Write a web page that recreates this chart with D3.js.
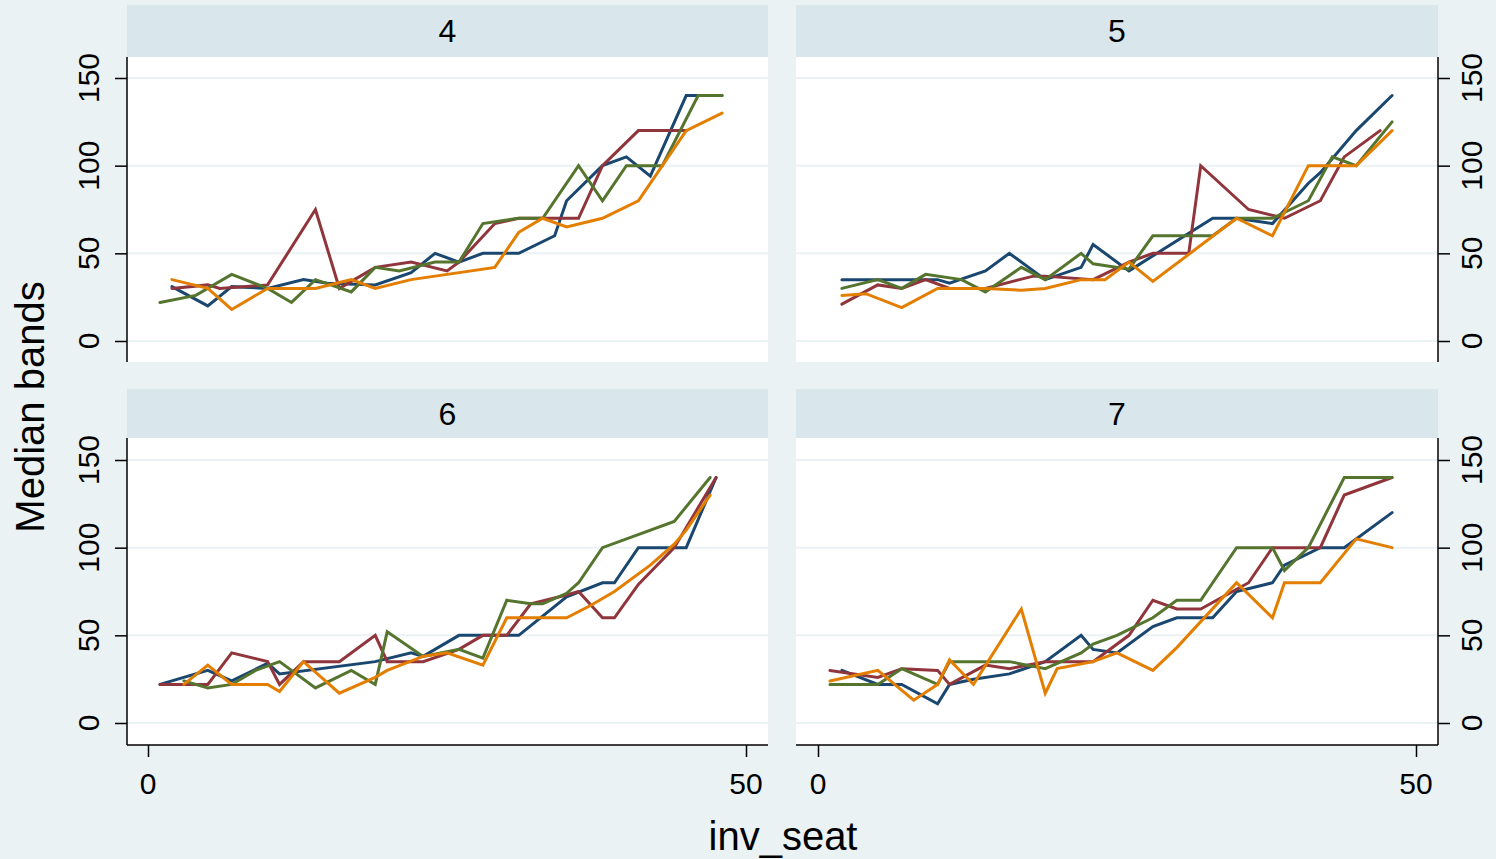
<!DOCTYPE html>
<html>
<head>
<meta charset="utf-8">
<script src="https://cdn.jsdelivr.net/npm/d3@7/dist/d3.min.js"></script>
<style>
  html, body { margin: 0; padding: 0; background: #EAF2F3; }
  svg { display: block; font-family: "Liberation Sans", Arial, sans-serif; }
</style>
</head>
<body>
<svg id="chart" width="1496" height="859"></svg>
<script>
// ---------------- DATA ----------------
const panelNames = ["4", "5", "6", "7"];
const seriesNames = ["s1", "s2", "s3", "s4"];
const xTicks = [0, 50];
const yTicks = [0, 50, 100, 150];
const xTitle = "inv_seat";
const yTitle = "Median bands";

// panel 4
const p4_s1 = [[2,31],[5,20],[7,31],[10,30],[13,35],[15,33],[19,32],[22,39],[24,50],[26,45],[28,50],[31,50],[34,60],[35,80],[38,100],[40,105],[42,94],[45,140],[48,140]];
const p4_s2 = [[2,30],[5,32],[6,30],[10,32],[14,75],[16,30],[19,42],[22,45],[25,40],[26,45],[29,67],[31,70],[36,70],[38,100],[41,120],[45,120]];
const p4_s3 = [[1,22],[4,26],[7,38],[10,30],[12,22],[14,35],[17,28],[19,42],[21,40],[24,45],[26,45],[28,67],[31,70],[33,70],[36,100],[38,80],[40,100],[43,100],[46,140],[48,140]];
const p4_s4 = [[2,35],[5,30],[7,18],[10,30],[14,30],[17,35],[19,30],[22,35],[29,42],[31,62],[33,70],[35,65],[38,70],[41,80],[45,120],[48,130]];
// panel 5
const p5_s1 = [[2,35],[10,35],[11,33],[14,40],[16,50],[19,35],[22,42],[23,55],[26,40],[33,70],[35,70],[38,67],[41,90],[42,96],[45,120],[48,140]];
const p5_s2 = [[2,21],[5,32],[7,30],[9,35],[11,30],[14,30],[18,37],[19,37],[23,35],[26,45],[28,50],[31,50],[32,100],[36,75],[39,70],[42,80],[44,105],[47,120]];
const p5_s3 = [[2,30],[5,35],[7,30],[9,38],[12,35],[14,28],[17,42],[19,35],[22,50],[23,44],[26,41],[28,60],[33,60],[35,70],[38,70],[41,80],[43,105],[45,100],[48,125]];
const p5_s4 = [[2,26],[4,27],[7,19],[10,30],[14,30],[17,29],[19,30],[22,35],[24,35],[26,45],[28,34],[35,70],[38,60],[41,100],[45,100],[48,120]];
// panel 6
const p6_s1 = [[1,22],[5,30],[7,24],[10,34],[11,28],[19,35],[22,40],[23,38],[26,50],[31,50],[35,72],[38,80],[39,80],[41,100],[45,100],[47.5,140]];
const p6_s2 = [[1,22],[5,22],[7,40],[10,35],[11,22],[13,35],[16,35],[19,50],[20,35],[23,35],[26,42],[28,50],[30,50],[32,68],[35,73],[36,75],[38,60],[39,60],[41,79],[44,100],[47.5,140]];
const p6_s3 = [[3,24],[5,20],[7,22],[9,30],[11,35],[14,20],[17,30],[19,22],[20,52],[23,38],[26,42],[28,37],[30,70],[32,68],[33,68],[35,74],[36,80],[38,100],[44,115],[47,140]];
const p6_s4 = [[3,22],[5,33],[7,22],[10,22],[11,18],[13,35],[16,17],[19,26],[20,30],[23,38],[25,40],[28,33],[30,60],[35,60],[37,67],[39,75],[42,90],[44,102],[45,110],[47,130]];
// panel 7
const p7_s1 = [[2,30],[5,22],[7,22],[10,11],[11,22],[13,25],[16,28],[19,35],[22,50],[23,42],[25,40],[28,55],[30,60],[33,60],[35,75],[38,80],[39,90],[42,100],[44,100],[48,120]];
const p7_s2 = [[1,30],[5,26],[7,31],[10,30],[11,22],[14,33],[16,31],[19,35],[23,35],[26,50],[28,70],[30,65],[32,65],[36,80],[38,100],[42,100],[44,130],[48,140]];
const p7_s3 = [[1,22],[5,22],[7,31],[10,22],[11,35],[16,35],[19,31],[22,40],[23,45],[25,50],[28,60],[30,70],[32,70],[35,100],[38,100],[39,87],[41,100],[44,140],[48,140]];
const p7_s4 = [[1,24],[5,30],[8,13],[10,22],[11,36],[13,22],[17,65],[19,17],[20,31],[23,35],[25,40],[28,30],[30,43],[35,80],[38,60],[39,80],[42,80],[45,105],[48,100]];

const table = {
  "4": [p4_s1, p4_s2, p4_s3, p4_s4],
  "5": [p5_s1, p5_s2, p5_s3, p5_s4],
  "6": [p6_s1, p6_s2, p6_s3, p6_s4],
  "7": [p7_s1, p7_s2, p7_s3, p7_s4]
};

// ---------------- STYLE / LAYOUT ----------------
const colors = ["#1A476F", "#90353B", "#55752F", "#E37E00"];
const layout = {
  "4": {left:127, right:768, stripTop:5,   top:57,  bottom:362, x0:148, x50:746,  yAxis:"left",  xAxis:false},
  "5": {left:796, right:1438, stripTop:5,  top:57,  bottom:362, x0:818, x50:1416, yAxis:"right", xAxis:false},
  "6": {left:127, right:768, stripTop:389, top:438, bottom:745, x0:148, x50:746,  yAxis:"left",  xAxis:true},
  "7": {left:796, right:1438, stripTop:389,top:438, bottom:745, x0:818, x50:1416, yAxis:"right", xAxis:true}
};
const yPix = { top: [341, 78], bottom: [723, 460] };

const svg = d3.select("#chart");
svg.append("rect").attr("width", 1496).attr("height", 859).attr("fill", "#EAF2F3");

panelNames.forEach(name => {
  const L = layout[name];
  const isTop = L.top < 200;
  const x = d3.scaleLinear().domain([0, 50]).range([L.x0, L.x50]);
  const y = d3.scaleLinear().domain([0, 150]).range(isTop ? yPix.top : yPix.bottom);
  const g = svg.append("g");

  // strip
  g.append("rect").attr("x", L.left).attr("y", L.stripTop)
    .attr("width", L.right - L.left).attr("height", L.top - L.stripTop)
    .attr("fill", "#D9E6EB");
  g.append("text").attr("x", (L.left + L.right) / 2).attr("y", (L.stripTop + L.top) / 2)
    .attr("text-anchor", "middle").attr("dominant-baseline", "central")
    .attr("font-size", 32).attr("fill", "#000").text(name);

  // plot region
  g.append("rect").attr("x", L.left).attr("y", L.top)
    .attr("width", L.right - L.left).attr("height", L.bottom - L.top)
    .attr("fill", "#FFFFFF");

  // gridlines
  g.selectAll(".grid").data(yTicks).enter().append("line")
    .attr("x1", L.left).attr("x2", L.right)
    .attr("y1", d => y(d)).attr("y2", d => y(d))
    .attr("stroke", "#EAF2F3").attr("stroke-width", 2);

  // y axis
  const yAx = L.yAxis === "left" ? d3.axisLeft(y) : d3.axisRight(y);
  yAx.tickValues(yTicks).tickSize(12).tickPadding(0).tickFormat(d3.format("d"));
  const ya = g.append("g").attr("transform", `translate(${L.yAxis === "left" ? L.left : L.right},0)`).call(yAx);
  ya.select(".domain").remove();
  ya.selectAll(".tick line").attr("stroke", "#000").attr("stroke-width", 1.5);
  ya.selectAll(".tick text").remove();
  ya.append("line").attr("x1", 0).attr("x2", 0).attr("y1", L.top).attr("y2", L.bottom)
    .attr("stroke", "#000").attr("stroke-width", 1.5);
  const lx = L.yAxis === "left" ? L.left - 39 : L.right + 33;
  g.selectAll(".ylab").data(yTicks).enter().append("text")
    .attr("transform", d => `translate(${lx},${y(d)}) rotate(-90)`)
    .attr("text-anchor", "middle").attr("dominant-baseline", "central")
    .attr("font-size", 30).attr("fill", "#000").text(d => d);

  // x axis
  if (L.xAxis) {
    const xAx = d3.axisBottom(x).tickValues(xTicks).tickSize(12).tickPadding(0);
    const xa = g.append("g").attr("transform", `translate(0,${L.bottom})`).call(xAx);
    xa.select(".domain").remove();
    xa.selectAll(".tick line").attr("stroke", "#000").attr("stroke-width", 1.5);
    xa.selectAll(".tick text").remove();
    xa.append("line").attr("x1", L.left).attr("x2", L.right).attr("y1", 0).attr("y2", 0)
      .attr("stroke", "#000").attr("stroke-width", 1.5);
    g.selectAll(".xlab").data(xTicks).enter().append("text")
      .attr("x", d => x(d)).attr("y", L.bottom + 38)
      .attr("text-anchor", "middle").attr("dominant-baseline", "central")
      .attr("font-size", 30).attr("fill", "#000").text(d => d);
  }

  // lines
  const line = d3.line().x(d => x(d[0])).y(d => y(d[1]));
  table[name].forEach((s, i) => {
    g.append("path").datum(s).attr("d", line)
      .attr("fill", "none").attr("stroke", colors[i])
      .attr("stroke-width", 3).attr("stroke-linejoin", "miter").attr("stroke-linecap", "round");
  });
});

svg.append("text").attr("transform", "translate(30,407) rotate(-90)")
  .attr("text-anchor", "middle").attr("dominant-baseline", "central")
  .attr("font-size", 40).attr("fill", "#000").text(yTitle);
svg.append("text").attr("x", 783).attr("y", 836)
  .attr("text-anchor", "middle").attr("dominant-baseline", "central")
  .attr("font-size", 40).attr("fill", "#000").text(xTitle);
</script>
</body>
</html>
